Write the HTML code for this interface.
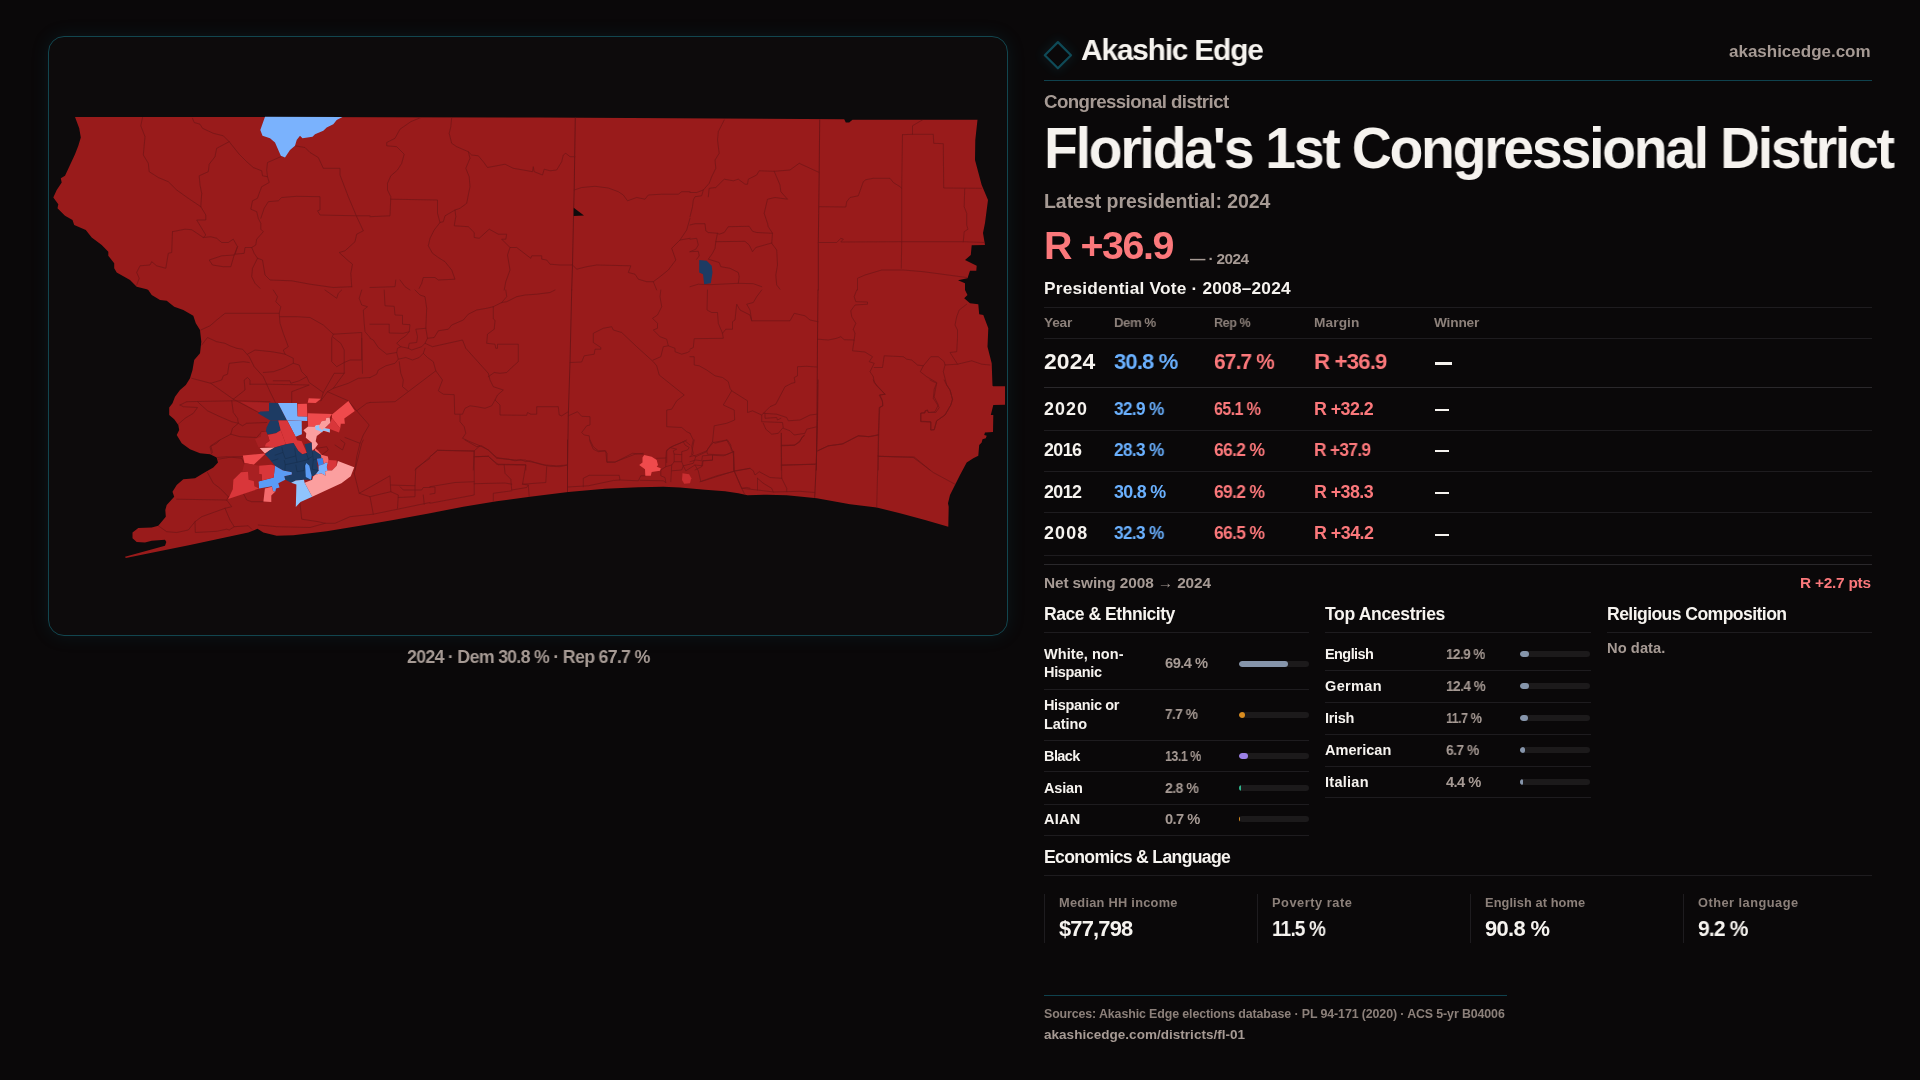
<!DOCTYPE html>
<html lang="en"><head><meta charset="utf-8"><title>Florida's 1st Congressional District</title>
<style>
*{margin:0;padding:0;box-sizing:border-box}
html,body{width:1920px;height:1080px;overflow:hidden;background:#0a0809;font-family:"Liberation Sans",sans-serif}
.t{position:absolute;white-space:nowrap;line-height:1;font-weight:700;transform-origin:0 0;will-change:transform}
.n{font-weight:400}
.hl{position:absolute;height:1px;background:#1e1c1f}
.hl2{position:absolute;height:1px;background:#2a282b}
.tl{position:absolute;height:1px;background:#0f424e}
.vl{position:absolute;width:1px;background:#1e1c1f}
.bar{position:absolute;width:70px;height:6px;border-radius:3px;background:#1c1a1b;overflow:hidden}
.bar i{display:block;height:6px;border-radius:3px;min-width:1px}
#card{position:absolute;left:48px;top:36px;width:960px;height:600px;border:1px solid #12464f;border-radius:16px;background:#0d0b0c;box-shadow:0 0 18px rgba(20,110,130,.15);overflow:hidden}
#card svg{position:absolute;left:-1px;top:-1px}
.dash{position:absolute;height:2px;background:#f5f2ee}
</style></head><body>

<div id="card"><svg width="960" height="600" viewBox="0 0 960 600">
<polygon points="27.0,81.0 217.0,81.0 492.0,81.5 796.2,83.3 797.8,86.5 801.2,86.5 804.5,83.7 929.5,83.7 927.3,104.0 927.0,124.0 933.7,149.0 940.0,164.0 937.0,187.0 935.0,197.0 937.0,209.0 923.7,209.3 922.8,219.0 917.0,224.0 928.7,229.8 928.3,234.8 922.0,234.8 919.5,242.3 910.0,244.3 917.0,247.3 917.0,254.0 919.5,259.0 916.2,262.3 922.0,267.3 930.3,268.2 931.2,278.2 935.3,279.0 940.3,292.3 939.5,310.7 943.7,327.3 944.5,349.8 945.3,350.3 957.0,350.3 957.0,368.7 945.3,369.0 942.8,379.0 945.3,379.0 945.0,396.0 937.0,396.5 936.2,399.0 938.7,399.8 937.8,402.3 934.5,403.2 933.7,406.5 931.2,409.0 930.3,419.8 925.3,422.3 918.7,426.5 912.0,439.0 902.0,459.0 900.0,467.3 900.7,470.7 900.3,490.7 877.0,484.0 852.0,477.3 828.7,471.5 802.0,468.2 768.7,462.3 738.7,459.3 718.7,458.7 699.5,459.3 690.3,457.3 677.0,455.3 657.0,453.7 632.0,451.5 615.3,450.7 590.3,451.2 557.0,452.8 520.3,456.0 482.0,460.7 448.7,465.3 415.3,470.7 382.0,477.3 345.3,484.0 312.0,489.8 278.7,495.3 245.3,499.3 228.7,499.8 215.3,496.5 209.5,492.8 200.3,496.5 142.0,509.0 77.8,522.0 77.0,520.7 117.0,509.8 118.3,506.0 117.0,503.7 103.7,504.8 97.0,506.5 88.7,506.0 84.5,502.3 84.5,496.5 90.3,492.0 103.7,491.5 110.3,489.8 117.8,480.7 117.3,474.0 118.7,469.0 126.2,460.7 124.5,455.7 128.7,449.0 135.3,443.2 147.0,442.3 155.3,437.3 165.3,431.5 170.0,426.5 168.7,421.5 162.0,418.2 152.0,417.3 142.0,413.2 133.7,407.3 128.7,399.0 131.2,394.0 130.3,389.0 126.2,383.2 121.2,379.0 121.2,371.5 124.5,367.3 127.0,360.7 132.0,354.0 137.8,349.0 142.0,342.3 144.5,334.0 146.2,324.0 152.0,317.3 153.3,305.7 152.0,294.0 147.8,287.3 145.3,279.8 135.3,274.0 126.2,270.7 118.7,264.8 112.0,264.0 103.7,259.0 100.3,254.0 98.7,253.2 88.7,250.7 82.0,244.0 68.7,236.5 66.2,232.3 66.2,227.3 60.3,219.8 60.3,215.7 53.7,209.0 43.7,201.5 37.8,194.0 26.2,189.0 24.5,184.0 17.0,179.8 9.5,172.3 10.3,168.2 5.3,161.5 8.7,154.0 13.7,146.5 12.8,142.3 17.0,139.8 22.0,129.0 27.0,118.2 30.3,109.8 32.8,101.5 31.2,92.3" fill="#991b1b"/>
<defs><clipPath id="mc"><polygon points="27.0,81.0 217.0,81.0 492.0,81.5 796.2,83.3 797.8,86.5 801.2,86.5 804.5,83.7 929.5,83.7 927.3,104.0 927.0,124.0 933.7,149.0 940.0,164.0 937.0,187.0 935.0,197.0 937.0,209.0 923.7,209.3 922.8,219.0 917.0,224.0 928.7,229.8 928.3,234.8 922.0,234.8 919.5,242.3 910.0,244.3 917.0,247.3 917.0,254.0 919.5,259.0 916.2,262.3 922.0,267.3 930.3,268.2 931.2,278.2 935.3,279.0 940.3,292.3 939.5,310.7 943.7,327.3 944.5,349.8 945.3,350.3 957.0,350.3 957.0,368.7 945.3,369.0 942.8,379.0 945.3,379.0 945.0,396.0 937.0,396.5 936.2,399.0 938.7,399.8 937.8,402.3 934.5,403.2 933.7,406.5 931.2,409.0 930.3,419.8 925.3,422.3 918.7,426.5 912.0,439.0 902.0,459.0 900.0,467.3 900.7,470.7 900.3,490.7 877.0,484.0 852.0,477.3 828.7,471.5 802.0,468.2 768.7,462.3 738.7,459.3 718.7,458.7 699.5,459.3 690.3,457.3 677.0,455.3 657.0,453.7 632.0,451.5 615.3,450.7 590.3,451.2 557.0,452.8 520.3,456.0 482.0,460.7 448.7,465.3 415.3,470.7 382.0,477.3 345.3,484.0 312.0,489.8 278.7,495.3 245.3,499.3 228.7,499.8 215.3,496.5 209.5,492.8 200.3,496.5 142.0,509.0 77.8,522.0 77.0,520.7 117.0,509.8 118.3,506.0 117.0,503.7 103.7,504.8 97.0,506.5 88.7,506.0 84.5,502.3 84.5,496.5 90.3,492.0 103.7,491.5 110.3,489.8 117.8,480.7 117.3,474.0 118.7,469.0 126.2,460.7 124.5,455.7 128.7,449.0 135.3,443.2 147.0,442.3 155.3,437.3 165.3,431.5 170.0,426.5 168.7,421.5 162.0,418.2 152.0,417.3 142.0,413.2 133.7,407.3 128.7,399.0 131.2,394.0 130.3,389.0 126.2,383.2 121.2,379.0 121.2,371.5 124.5,367.3 127.0,360.7 132.0,354.0 137.8,349.0 142.0,342.3 144.5,334.0 146.2,324.0 152.0,317.3 153.3,305.7 152.0,294.0 147.8,287.3 145.3,279.8 135.3,274.0 126.2,270.7 118.7,264.8 112.0,264.0 103.7,259.0 100.3,254.0 98.7,253.2 88.7,250.7 82.0,244.0 68.7,236.5 66.2,232.3 66.2,227.3 60.3,219.8 60.3,215.7 53.7,209.0 43.7,201.5 37.8,194.0 26.2,189.0 24.5,184.0 17.0,179.8 9.5,172.3 10.3,168.2 5.3,161.5 8.7,154.0 13.7,146.5 12.8,142.3 17.0,139.8 22.0,129.0 27.0,118.2 30.3,109.8 32.8,101.5 31.2,92.3"/></clipPath></defs>
<g clip-path="url(#mc)" fill="none" stroke-linejoin="round" stroke-linecap="round">
<g stroke="#6a1416" stroke-width="0.9">
<polyline points="527.3,81.5 526.7,120.7 526.2,154.0 525.7,172.3 524.5,229.0 523.7,254.0"/>
<polyline points="523.7,254.0 522.0,326.5 520.3,379.0 519.5,434.0"/>
<polyline points="519.5,404.0 519.5,456.0"/>
<polyline points="771.7,83.7 771.2,136.5 770.7,177.3 770.3,207.3 770.3,254.0"/>
<polyline points="770.0,254.0 769.5,304.0 769.0,378.2 768.3,434.0"/>
<polyline points="770.0,344.0 769.5,385.7 768.3,427.3 766.7,461.5"/>
</g><g stroke="#701517" stroke-width="0.7">
<polyline points="94.5,81.5 92.8,89.8 97.0,100.7 95.3,119.0 100.3,127.3 101.2,135.7 110.3,141.5 120.3,145.7 128.7,154.0 140.3,162.3 152.8,170.7 157.8,179.0 157.8,184.0 148.7,184.0 157.8,199.0 155.3,201.5 162.8,200.7 168.7,202.3 173.7,206.5 180.3,206.5 185.3,203.2 189.5,210.7 186.2,219.0 182.8,230.7 175.3,230.7 164.5,229.0 161.2,224.0 173.7,219.8 186.2,219.0"/>
<polyline points="144.5,82.3 146.2,86.5 152.0,88.2 154.5,92.3 165.3,97.3 175.3,99.8 181.2,105.7 168.7,112.3 167.0,120.7 161.2,128.2 160.3,135.7 151.2,139.8 152.0,149.0 153.7,157.3 152.8,170.7"/>
<polyline points="181.2,105.7 191.2,118.2 198.7,125.7 205.3,131.5 213.7,134.8 214.5,139.8 219.5,140.7 221.2,146.5 213.7,150.7 211.2,157.3 209.5,162.3 204.5,164.8 202.8,173.2 208.7,175.7 210.3,182.3 212.8,187.3 212.8,193.2 215.3,195.7 208.7,203.2 207.8,209.0 203.7,211.5 206.2,217.3 209.5,222.3 214.5,224.0 217.0,239.0 222.0,244.0 243.7,244.8 262.0,248.2 285.3,251.5 303.7,250.7"/>
<polyline points="232.8,120.7 225.3,124.0 219.5,126.5 218.7,134.0 219.5,140.7"/>
<polyline points="247.0,109.8 257.0,111.5 262.0,116.5 270.3,121.5 275.3,132.3 292.0,132.3 292.0,139.0 300.3,160.7 308.7,180.7 315.3,194.8 308.7,198.2 307.0,205.7 297.0,214.8 291.2,216.5 300.3,224.8 304.5,228.2 302.8,237.3 303.7,250.7"/>
<polyline points="212.8,182.3 216.2,172.3 220.3,165.7 230.3,164.8 233.7,161.5 248.7,160.3 272.0,160.7 272.0,174.0 269.5,174.8 272.0,179.0 308.7,179.8 322.0,179.8"/>
<polyline points="124.5,195.7 137.0,193.2 143.7,193.7 155.3,201.5"/>
<polyline points="124.5,195.7 123.7,216.5 120.3,217.3 117.8,232.3 108.7,229.8 103.7,225.7 102.0,229.0 92.0,229.8 88.7,236.5 91.2,242.3 88.7,249.0"/>
<polyline points="189.5,210.7 187.0,218.2 196.2,217.3 197.0,211.5 203.7,211.5"/>
<polyline points="209.5,222.3 204.5,232.3 203.7,240.7 207.0,247.3 212.0,252.3"/>
<polyline points="372.8,81.5 362.8,85.7 352.0,93.2 347.0,102.3 338.7,106.5 338.7,109.8 348.7,110.7 356.2,118.2 353.7,127.3 349.5,134.0 342.8,139.8 339.5,147.3 339.5,154.0 342.8,160.7 342.0,179.8 322.0,180.7"/>
<polyline points="342.8,163.2 389.5,164.0 389.5,177.3 392.0,186.5 386.2,194.0 382.0,202.3 380.3,209.8 384.5,217.3 390.3,221.5 397.0,225.7 403.7,234.0 407.0,243.2 390.3,244.0 387.0,241.5 375.3,241.5 373.7,247.3 371.2,252.3"/>
<polyline points="403.7,81.5 402.8,90.7 401.2,97.3 403.7,107.3 408.7,110.7 420.3,115.7 422.0,122.3 417.8,132.3 421.2,140.7 422.0,150.7 420.3,159.0 418.7,167.3 412.0,172.3 407.0,174.0 397.0,179.8 395.3,185.7 392.0,186.5"/>
<polyline points="420.3,115.7 423.7,119.0 430.3,119.8 435.3,125.7 439.5,131.5 448.7,129.8 457.0,128.2 465.3,132.3 475.3,134.0 484.5,135.7 485.3,130.7 486.2,135.7 494.5,139.0 496.2,133.2 502.0,134.8 508.7,134.0 513.7,125.7 515.3,119.0 517.8,117.3 522.0,120.7 526.7,120.7"/>
<polyline points="407.0,174.0 407.8,180.7 406.2,189.8 420.3,190.7 426.2,196.5 426.2,201.5 431.2,202.3 441.2,193.2 450.3,198.2 458.7,198.2 457.8,203.2 453.7,203.2 462.0,211.5 468.7,211.5 482.8,222.3 483.7,219.8 493.7,219.8 493.7,223.2 498.7,224.0 502.0,228.2 512.0,229.0 524.5,229.0"/>
<polyline points="462.0,211.5 459.5,219.0 462.0,234.0 457.8,245.7 456.2,254.0"/>
<polyline points="526.2,154.0 533.7,151.5 547.0,150.3 560.3,152.0 570.3,155.7 575.3,159.0 579.5,164.8 588.7,161.5 597.0,163.2 600.3,159.0 613.7,158.2 630.3,158.2 633.7,155.7 642.0,155.7"/>
<polyline points="524.5,229.0 528.7,233.2 538.7,230.7 548.7,229.0 582.8,229.8 580.3,236.5 587.0,238.2 590.3,243.2 598.7,245.7 605.3,245.7 612.0,240.7 620.3,234.0 627.8,224.0 623.7,212.3 632.0,204.0 642.0,202.3"/>
<polyline points="642.0,182.3 638.7,194.0 632.0,204.0"/>
<polyline points="605.3,245.7 608.7,254.0"/>
<polyline points="347.8,244.0 347.0,250.7 322.0,251.5"/>
<polyline points="352.0,244.0 357.0,250.7 362.0,254.0"/>
<polyline points="676.2,84.0 670.3,95.7 669.5,104.0 671.2,117.3 667.0,124.0 667.8,132.3 663.7,140.7 661.2,147.3 655.3,154.0 648.7,156.5 642.0,156.5"/>
<polyline points="660.3,160.7 661.2,152.3 667.8,151.5 676.2,143.2 685.3,144.8 690.3,143.2 697.0,148.2 699.5,148.2 700.3,143.2 708.7,139.0 711.2,134.8 726.2,135.3 742.0,134.0 751.2,127.3 771.2,136.5"/>
<polyline points="726.2,135.3 732.0,149.0 732.8,155.7 739.5,163.2 727.0,161.5 719.5,163.2 716.2,177.3 719.5,187.3 720.3,190.7 724.5,197.3 723.7,207.3 728.7,214.0 729.5,229.0 727.8,239.0 728.7,249.0 732.0,253.2"/>
<polyline points="771.2,170.7 797.8,171.0 798.7,165.7 802.0,161.5 810.3,159.8 815.3,145.7 817.8,143.7 825.3,142.3 842.0,142.3 845.3,146.5 852.0,150.7 853.7,152.3"/>
<polyline points="854.5,98.7 853.7,152.3 853.7,205.7 853.3,232.3"/>
<polyline points="854.5,98.7 864.5,98.3 864.5,89.8 872.0,85.3 874.5,84.0"/>
<polyline points="864.5,98.3 885.3,98.3 885.7,107.3 895.3,107.7 895.7,152.0 933.7,152.3"/>
<polyline points="916.7,152.7 916.2,170.7 918.7,177.3 918.7,189.0 920.0,193.2 916.2,195.7 915.3,205.7"/>
<polyline points="770.3,206.5 788.7,206.5 792.8,202.3 795.3,203.2 792.8,206.0 853.7,205.7 915.3,205.7 936.2,206.5"/>
<polyline points="809.5,254.0 809.5,242.3 817.0,239.0 833.7,234.0 855.3,234.0 875.3,235.7 918.7,241.5"/>
<polyline points="642.0,189.0 647.0,187.7 657.0,187.7 657.8,194.8 660.3,196.5 669.5,197.3 671.2,198.2 676.2,196.5 680.3,190.7 701.2,190.3 704.5,195.3 708.7,196.5 724.5,197.3"/>
<polyline points="669.5,197.3 667.8,205.7 697.0,205.3 701.2,209.0 704.5,215.7 707.8,211.5 723.7,207.0"/>
<polyline points="667.8,205.7 667.0,212.3 664.5,217.3 660.3,223.2 671.2,226.5 672.8,230.7 682.0,232.3 690.3,236.5 691.2,240.7 690.3,247.3"/>
<polyline points="642.0,250.7 650.3,248.2 662.0,248.7 690.3,247.3 705.3,247.7 713.7,250.7"/>
<polyline points="642.0,203.2 648.7,202.3 650.3,209.0 647.8,213.2 642.0,215.7"/>
<polyline points="642.0,215.7 650.3,215.3 651.2,219.8 648.7,223.2"/>
<polyline points="642.0,180.7 644.5,170.7 645.3,164.0 647.0,160.7 653.7,159.8 655.3,154.0"/>
<polyline points="225.3,254.0 229.5,260.7 227.8,265.7 232.8,270.7 231.2,277.3 232.0,287.3 235.3,297.3 237.8,304.0 240.3,310.7 235.3,314.0 237.0,318.2 245.3,322.3 245.3,327.3 251.2,329.0 253.7,335.7 258.7,340.7 261.2,346.5 275.3,356.5 272.8,364.8"/>
<polyline points="152.8,294.0 162.0,289.8 168.7,284.0 177.0,277.3 231.2,277.3"/>
<polyline points="232.0,280.7 248.7,280.7 262.0,281.5 275.3,289.0 285.3,298.2 313.7,296.5 313.7,324.0 302.0,324.0 296.2,326.5 288.7,330.7 283.7,325.7 283.7,302.3 285.3,298.2"/>
<polyline points="285.3,301.5 292.8,307.3 296.2,314.0 296.2,337.3 286.2,337.3 275.3,356.5"/>
<polyline points="153.7,309.0 159.5,301.5 168.7,305.7 177.0,307.3 182.0,309.8 188.7,312.3 194.5,313.2 201.2,320.7 206.2,330.7 215.3,340.7 222.0,355.7 227.8,367.3"/>
<polyline points="199.5,318.2 207.0,314.0 223.7,315.7 232.8,317.3 237.0,318.2"/>
<polyline points="215.3,336.5 225.3,335.7 235.3,332.3 245.3,327.3"/>
<polyline points="225.3,344.8 242.0,344.8 242.8,347.3 251.2,344.8 258.7,340.7"/>
<polyline points="202.0,348.2 218.7,348.2 261.2,349.0 243.7,355.7 243.7,367.3"/>
<polyline points="143.7,342.3 162.8,347.3 173.7,344.0 175.3,339.8 179.5,338.2 181.2,327.3 195.3,325.7 201.2,326.5"/>
<polyline points="162.8,347.3 185.3,363.2 197.0,354.0 196.2,344.0 199.5,341.5 202.0,344.0 202.0,348.2"/>
<polyline points="132.0,369.0 138.7,365.7 185.3,364.8 222.0,365.7"/>
<polyline points="185.3,363.2 218.7,380.7 223.7,384.0"/>
<polyline points="132.0,369.0 135.3,370.7 149.5,371.5 145.3,377.3 137.0,382.3 130.3,388.2"/>
<polyline points="149.5,365.7 159.5,374.8 172.0,380.7 183.7,385.7 190.3,387.3 194.5,389.8 198.7,387.3 218.7,386.5"/>
<polyline points="183.7,364.8 185.3,376.5 189.5,382.3 190.3,387.3 184.5,392.3 182.8,398.2 170.3,404.8 162.8,409.8 164.5,416.5"/>
<polyline points="182.8,398.2 192.0,400.7 208.7,401.5 213.7,395.7 218.7,395.7"/>
<polyline points="168.7,421.5 178.7,420.7 193.7,422.3 197.0,429.0"/>
<polyline points="296.2,337.3 285.3,352.3 279.5,355.7 272.8,364.8"/>
<polyline points="285.3,352.3 300.3,347.3 310.3,342.3 322.0,341.5"/>
<polyline points="279.5,355.7 300.3,364.8 308.7,374.8 318.7,367.3 322.0,366.5"/>
<polyline points="308.7,374.8 321.2,389.0 315.3,399.0 312.0,407.3 297.0,401.5"/>
<polyline points="312.0,407.3 308.7,420.7 307.0,434.0"/>
<polyline points="313.7,254.0 311.2,262.3 313.7,269.0 319.5,270.7 315.3,274.0 316.2,287.3 317.0,295.7 322.0,301.5"/>
<polyline points="313.7,302.3 314.5,337.3"/>
<polyline points="277.0,254.0 288.7,262.3 290.3,257.3 293.7,254.0"/>
<polyline points="367.0,254.0 372.0,259.0 377.0,260.7 378.7,272.3 377.8,292.3 379.5,302.3 377.0,307.3 384.5,310.7 414.5,304.0 417.8,312.3 440.3,337.3 442.0,344.0 445.3,350.7 455.3,354.0 449.5,359.0 447.0,364.0 452.0,369.0 452.0,379.0 478.7,379.3 479.5,376.5 482.8,378.2 488.7,378.2 488.7,370.7 510.3,370.7 511.2,379.0 513.7,379.8 520.3,375.7"/>
<polyline points="379.5,302.3 386.2,301.5 390.3,294.8 400.3,293.2 403.7,289.0 415.3,284.0 420.3,278.2 428.7,274.0 438.7,272.3 445.3,270.7 453.7,266.5 458.7,265.7 468.7,260.7 477.0,259.0 488.7,258.2 502.0,256.5 507.0,254.0"/>
<polyline points="445.3,270.7 445.3,282.3 447.0,284.8 446.2,293.2 439.5,298.2 438.7,307.3 447.0,308.2 447.8,312.3 449.5,312.3 449.5,308.2 470.3,308.2 470.3,325.7 463.7,331.5 458.7,336.5 452.0,337.3 446.2,336.5 440.3,340.7"/>
<polyline points="453.7,266.5 458.7,260.7 457.8,254.0"/>
<polyline points="336.2,254.0 337.0,269.8 346.2,270.3 347.0,279.0 354.5,279.3 354.5,288.2 362.0,288.7 361.2,295.7 355.3,297.3 341.2,297.0 341.2,288.2 322.0,288.2"/>
<polyline points="361.2,295.7 357.8,299.8 352.8,303.2 348.7,307.3 352.8,310.7 360.3,312.3 361.2,307.3 368.7,306.5 369.5,300.7 367.8,293.2 377.8,292.3"/>
<polyline points="322.0,302.3 325.3,304.0 330.3,311.5 338.7,318.2 348.7,316.5 349.5,312.3 352.8,310.7"/>
<polyline points="360.3,312.3 363.7,314.0 373.7,310.7 377.0,307.3"/>
<polyline points="348.7,316.5 350.3,323.2 357.8,321.5 364.5,324.0 371.2,321.5 375.3,317.3 377.0,312.3"/>
<polyline points="375.3,317.3 379.5,321.5 385.3,325.7 387.8,334.8 394.5,344.0 390.3,354.8 395.3,358.2 406.2,358.7 406.7,378.2 414.5,378.2 417.0,372.3 422.0,369.8 428.7,370.7 437.0,372.3 443.7,369.8 447.0,364.0"/>
<polyline points="387.8,334.8 347.0,365.7 322.0,366.5"/>
<polyline points="350.3,323.2 347.0,327.3 337.8,329.8 330.3,334.0 328.7,338.2 322.0,341.5"/>
<polyline points="351.2,325.7 352.8,337.3 355.3,344.0 354.5,350.7 359.5,354.8"/>
<polyline points="412.0,379.0 412.0,385.7 416.2,390.7 417.8,397.3 414.5,402.3 422.0,405.7 432.0,409.8 426.2,414.8 425.3,434.0"/>
<polyline points="432.0,409.8 440.3,414.0 448.7,421.5 458.7,423.2 468.7,424.0 477.0,424.0 482.0,425.7 490.3,427.3 497.0,429.0 508.7,429.8 519.5,429.0"/>
<polyline points="426.2,414.8 389.5,414.3 380.3,422.3 367.0,434.0"/>
<polyline points="427.8,420.7 440.3,420.3 448.7,428.2 477.8,428.7 477.8,434.0"/>
<polyline points="522.0,326.5 533.7,326.0 536.2,319.8 546.2,318.2 547.0,313.2 552.8,313.2 552.8,311.5 545.3,306.5 545.3,297.3 555.3,292.3 563.7,290.7 565.3,294.0 573.7,296.5 588.7,310.7 605.3,325.7 608.7,329.8 611.2,339.0 636.2,359.0 628.7,364.8 623.7,373.2 618.7,374.0 618.7,390.7 633.7,391.5 638.7,395.7 642.0,397.3"/>
<polyline points="520.3,379.8 529.5,375.7 533.7,380.3 542.0,380.7 542.0,389.0 538.7,389.8 533.7,396.5 536.2,399.0 541.2,399.8 542.0,405.7 545.3,413.2 550.3,415.7 557.8,414.8 558.7,425.7 567.0,426.0 587.0,418.2 595.3,417.3"/>
<polyline points="612.8,254.0 612.0,260.7 613.7,270.7 609.5,279.0 604.5,282.3 609.5,287.3 609.5,292.3 605.3,294.0 612.0,300.7 618.7,303.2 620.3,309.8 627.0,312.3 627.0,315.7 633.7,318.2 639.5,316.5 642.0,314.8"/>
<polyline points="605.3,324.0 612.8,320.7 615.3,310.7 620.3,309.8"/>
<polyline points="618.7,426.5 618.7,414.0 625.3,409.8 632.0,407.3 637.0,404.8 642.0,409.0"/>
<polyline points="659.5,254.0 659.0,274.0 663.7,276.5 669.5,276.5 670.3,287.3 674.5,297.3 675.3,302.3 646.2,302.7 645.3,311.5 642.0,313.2"/>
<polyline points="674.5,297.3 677.8,293.2 684.5,293.2 684.5,285.7 687.0,284.0 688.7,268.2 692.0,274.0 702.0,279.0 703.7,284.8 742.0,284.8 746.2,277.3 757.0,279.8 762.0,284.0 770.0,285.7"/>
<polyline points="713.7,254.0 708.7,260.7 705.3,266.5 698.7,268.2 702.0,274.0 703.7,284.8"/>
<polyline points="642.0,320.7 646.2,320.7 646.2,329.0 651.2,329.8 658.7,334.0 667.0,339.8 674.5,341.5 680.3,345.7 682.0,352.3 683.7,354.8 675.3,369.0 686.2,374.0 686.7,384.0 678.7,387.3 666.2,389.8 664.5,405.7 658.7,414.8 648.7,419.0 642.0,420.7"/>
<polyline points="683.7,354.8 699.5,364.8 699.5,376.5 704.5,374.8 713.7,379.0 713.7,385.7 734.5,386.5 735.3,392.3 742.0,394.8 746.2,399.0 757.0,397.3 758.7,393.2 769.0,390.7"/>
<polyline points="713.7,379.0 722.0,370.7 727.8,368.2 737.0,350.7 743.7,347.3 747.0,346.5 746.2,341.5 749.5,339.8 749.5,330.7 758.7,330.3 769.0,331.0"/>
<polyline points="715.3,377.3 728.7,378.2 738.7,381.5 740.3,384.8 752.0,384.0 762.0,379.0 769.0,378.2"/>
<polyline points="717.0,377.3 717.0,382.3 728.7,381.5 729.5,384.0 732.8,382.3"/>
<polyline points="715.3,387.3 717.8,393.2 723.7,398.2 730.3,397.3 734.5,392.3"/>
<polyline points="733.3,397.3 733.3,434.0"/>
<polyline points="733.3,409.8 746.2,409.3 751.2,405.7 756.2,399.0"/>
<polyline points="733.3,429.0 767.0,428.2"/>
<polyline points="664.5,405.7 667.0,407.3 679.5,404.0 682.8,409.0 683.3,414.8 685.7,415.7 685.7,434.0"/>
<polyline points="658.7,414.8 659.5,418.2 677.8,419.0 685.7,415.7"/>
<polyline points="642.0,425.7 647.8,424.0 653.7,424.8 654.5,419.8 664.5,419.0 664.5,424.0 654.5,424.8 653.7,430.7 647.0,434.0"/>
<polyline points="642.0,397.3 645.3,404.0 643.7,410.7 645.3,417.3 642.0,420.7"/>
<polyline points="770.0,303.2 780.3,304.0 788.7,302.3 792.8,300.7 796.2,303.7 806.2,304.0 804.5,314.8 817.0,316.0 824.5,320.7 821.2,325.7 826.2,327.3 822.0,335.7 825.3,340.7 826.2,346.5 837.0,358.2 832.0,359.0 834.5,364.8 834.5,369.8 831.2,371.5 830.3,399.0 830.3,434.0"/>
<polyline points="806.2,304.0 807.0,297.3 805.3,293.2 807.8,287.3 803.7,280.7 802.8,274.8 807.0,269.0 819.5,268.2 819.5,266.0 807.8,265.7 806.2,260.7 808.7,254.0"/>
<polyline points="826.2,331.5 834.5,331.5 836.2,319.8 855.3,320.7 858.7,323.2 863.7,324.0 869.5,329.0 875.3,329.8 882.8,320.7 890.3,320.7 896.2,325.7 897.0,329.0 909.5,328.2 923.7,324.8 933.7,328.2 942.0,329.0"/>
<polyline points="875.3,329.8 872.3,335.7 878.7,340.7 888.7,346.5 886.2,360.7 890.3,369.0 887.0,375.7 880.3,376.5 879.5,374.0 877.0,374.8 877.0,376.5 872.8,377.0 872.8,385.7 882.8,386.0 882.8,394.0 886.2,393.7 888.7,384.8 897.0,379.0 902.8,369.0 904.5,363.2 902.0,354.0 898.7,349.0 895.3,335.7 897.0,329.0"/>
<polyline points="909.5,328.2 902.0,316.5 908.7,315.7 909.5,302.3 909.5,294.0 907.0,289.0 908.7,280.7 911.2,274.0 918.7,268.2"/>
<polyline points="769.5,414.8 780.3,409.8 793.7,408.2 810.3,399.8 822.0,400.7 830.3,399.0"/>
<polyline points="830.3,420.3 866.2,421.0 882.0,434.0"/>
<polyline points="128.7,463.2 178.7,464.0 183.7,470.7 177.0,472.3 153.7,480.7 147.0,485.7 140.3,494.0 128.7,496.5 118.7,495.7 110.3,489.8"/>
<polyline points="147.0,485.7 147.3,496.5 168.7,495.3 178.7,493.2 181.2,494.0 186.2,490.7 200.3,489.8 203.7,493.2"/>
<polyline points="177.0,472.3 182.0,484.0 186.2,490.7"/>
<polyline points="178.7,464.0 180.3,460.7 195.3,457.3 209.5,452.3"/>
<polyline points="195.3,457.3 198.7,464.0 203.7,465.7 215.3,465.7"/>
<polyline points="159.5,436.5 165.3,447.3 172.0,452.3 180.3,460.7"/>
<polyline points="172.0,404.0 168.7,407.3 162.0,410.7 163.7,418.2"/>
<polyline points="170.3,423.2 185.3,420.7 195.3,420.7"/>
<polyline points="252.0,467.3 253.7,483.2 270.3,485.7 277.0,487.3 287.0,487.3 302.0,480.7 325.3,478.2 382.0,466.5"/>
<polyline points="210.3,489.0 228.7,490.7 262.0,491.5 277.0,487.3"/>
<polyline points="306.2,437.3 311.2,457.3 322.0,460.7 325.3,478.2"/>
<polyline points="311.2,457.3 342.0,439.8 342.8,455.7 350.3,459.0 349.5,472.3"/>
<polyline points="322.0,460.7 328.7,459.0 342.8,455.7"/>
<polyline points="306.2,437.3 313.7,407.3 315.3,404.0"/>
<polyline points="342.8,449.0 367.0,449.8 367.8,432.3 382.0,422.3"/>
<polyline points="352.0,450.7 355.3,454.0 373.7,454.0 375.3,451.5 382.0,451.5"/>
<polyline points="367.0,449.8 367.0,460.7 350.3,461.5"/>
<polyline points="375.3,459.0 376.2,468.2"/>
<polyline points="287.0,409.0 294.5,414.0 297.0,407.3 292.8,404.0"/>
<polyline points="268.7,412.3 278.7,410.7 280.3,414.0 273.7,419.0"/>
<polyline points="382.0,420.7 389.5,414.3 426.2,415.3 426.2,459.0 382.0,467.3"/>
<polyline points="417.0,404.0 428.7,410.7 433.7,409.8 440.3,414.0 448.7,422.3 460.3,423.2 467.0,424.8 472.8,423.7 477.8,425.7 482.0,424.8 492.0,428.2 502.0,430.3 512.0,430.7 519.5,429.0"/>
<polyline points="426.2,420.7 440.3,420.3 450.3,428.7 477.8,429.0 474.5,448.2 480.3,449.0 481.2,460.7"/>
<polyline points="456.2,429.0 457.0,437.3 462.8,443.2 463.7,454.0 478.7,451.5 480.3,449.0"/>
<polyline points="426.2,447.7 457.0,447.0 463.7,448.2"/>
<polyline points="382.0,450.7 407.0,446.5 426.2,445.7"/>
<polyline points="474.5,448.2 497.8,446.5 498.7,430.7"/>
<polyline points="445.3,466.0 445.3,457.3 463.7,454.8"/>
<polyline points="382.0,451.0 387.0,451.0 387.0,457.3 382.0,458.2"/>
<polyline points="542.0,404.0 545.3,410.7 550.3,414.8 557.0,414.8 559.0,417.3 559.0,426.5 567.0,426.2 584.5,417.3 595.3,418.2"/>
<polyline points="535.3,450.7 535.3,442.3 541.2,439.3 571.2,439.3 572.0,444.0 565.3,444.5 540.3,449.8 519.5,451.0"/>
<polyline points="572.0,444.0 590.3,444.8 592.8,439.8 597.3,439.8"/>
<polyline points="592.0,444.3 615.3,444.8 617.8,446.5"/>
<polyline points="608.7,422.3 617.8,422.0 618.3,415.7 622.0,411.5 628.7,413.2 625.3,414.8 626.2,418.2 633.7,418.7 633.7,415.7 639.5,414.0 641.2,411.5 637.0,409.0 635.3,405.7 638.7,404.0"/>
<polyline points="617.8,422.0 617.8,430.7 612.8,434.0 612.8,439.8 617.0,441.5 617.8,446.5"/>
<polyline points="617.8,430.7 623.7,429.0 626.2,425.7 626.2,418.2"/>
<polyline points="626.2,425.7 633.7,425.7 633.7,418.7"/>
<polyline points="633.7,425.7 635.3,429.8 645.3,427.3 647.8,420.7 643.7,418.2 644.5,412.3 646.2,404.0"/>
<polyline points="623.7,429.0 622.8,445.7"/>
<polyline points="623.7,434.8 633.7,434.0 635.3,429.8"/>
<polyline points="635.3,429.8 637.8,434.8 647.0,429.0 654.5,429.8 655.0,424.8 664.5,424.3 664.5,419.3 675.3,419.8 685.3,415.7"/>
<polyline points="647.8,420.7 658.7,415.7 660.3,412.3 665.3,406.5 678.7,404.0"/>
<polyline points="647.0,429.0 650.3,434.8 652.8,445.7 687.0,434.8 702.0,432.3"/>
<polyline points="678.7,404.0 685.3,415.7 686.2,434.8 693.7,452.3 698.7,451.5 702.0,452.3"/>
<polyline points="622.0,411.5 635.3,405.7"/>
<polyline points="837.0,358.2 831.2,359.0 834.5,365.7 835.0,369.8 831.7,371.5 830.7,399.0 830.0,420.7 828.7,471.5"/>
<polyline points="825.3,344.0 828.7,349.8 837.0,358.2"/>
<polyline points="770.0,414.8 780.3,409.8 795.3,407.7 810.3,399.8 820.3,400.7 830.7,398.7"/>
<polyline points="830.3,420.3 865.3,421.5 885.3,436.5 907.0,448.2"/>
<polyline points="733.3,397.3 733.7,442.3 738.7,452.3 738.7,455.7"/>
<polyline points="733.7,409.3 747.0,409.0 752.0,405.7 753.7,401.5 756.2,399.8"/>
<polyline points="733.7,429.3 767.8,428.2"/>
<polyline points="652.0,445.7 668.7,439.8 686.2,435.3 702.0,432.3 705.3,434.8 707.0,439.0 711.2,435.7 722.0,441.5 733.7,442.3"/>
<polyline points="686.2,435.3 693.7,452.3 697.0,459.0"/>
<polyline points="693.7,452.3 709.5,454.0 725.3,456.0 752.0,455.3 766.7,456.5"/>
<polyline points="709.5,442.3 709.5,454.0"/>
<polyline points="709.5,442.3 715.3,447.3 723.7,452.3 725.3,456.0"/>
<polyline points="685.3,415.7 686.2,435.3"/>
<polyline points="882.0,344.0 888.7,347.3 886.2,353.2 885.3,362.3 891.2,371.5 887.8,376.5 880.3,376.5 879.5,374.3 877.0,375.3 877.0,377.0 872.8,377.3 872.8,385.3 882.8,385.7 882.8,394.0 886.2,393.7 888.7,384.8 897.0,379.0 902.8,369.0 904.5,363.2 902.0,354.0 898.7,349.0 896.2,344.0"/>
</g></g>
<polygon points="217.0,80.7 212.3,94.0 214.5,99.8 222.0,102.3 227.0,106.5 230.3,114.0 232.8,119.8 237.0,121.5 239.5,117.7 242.0,114.0 247.0,109.8 248.7,104.0 252.0,99.8 254.5,102.3 264.5,100.7 267.0,98.2 275.3,94.8 278.7,91.5 285.3,88.2 288.7,84.0 294.5,81.0" fill="#7ab2fd"/>
<polygon points="525.7,171.8 536.0,179.5 525.7,180.0" fill="#0d0b0c"/>
<polygon points="651.2,224.0 658.7,224.8 663.7,229.8 664.5,236.5 662.8,247.3 656.2,248.2 655.0,238.2 651.2,236.5" fill="#1d3b63"/>
<polygon points="596.2,419.0 603.7,420.7 608.7,424.0 610.0,429.0 608.7,430.7 612.8,432.3 612.0,434.8 603.7,436.0 602.8,439.8 597.3,439.8 597.0,433.2 591.2,429.0 594.5,426.5 594.5,421.5" fill="#ef4a4c"/>
<polygon points="634.5,437.3 641.2,438.2 643.3,442.3 642.0,447.3 636.2,447.7 634.0,444.0" fill="#c92d30"/>
<polygon points="192.4,365.7 221.0,367.1 221.0,375.6 211.1,376.2" fill="#a82022"/>
<polygon points="221.0,366.8 230.0,367.1 239.1,384.6 230.3,384.6 222.2,384.6 209.9,377.3 212.3,375.6 221.0,375.2" fill="#1d3b63"/>
<polygon points="230.0,367.1 249.0,367.1 249.6,380.3 259.3,380.6 259.3,384.9 239.1,384.6" fill="#7ab2fd"/>
<polygon points="239.4,384.7 253.7,384.9 253.9,398.3 247.6,400.7" fill="#7ab2fd"/>
<polygon points="249.6,368.0 258.9,367.8 259.3,380.6 249.6,380.3" fill="#ef4a4c"/>
<polygon points="260.7,362.2 272.9,362.8 267.7,367.1 259.7,366.8" fill="#ef4a4c"/>
<polygon points="284.0,378.5 300.4,365.1 306.8,375.0 296.3,382.6 296.9,387.8 292.8,387.8 292.2,392.5 284.0,382.0" fill="#ef4a4c"/>
<polygon points="259.7,377.3 284.0,377.9 281.7,381.4 278.2,382.0 277.6,384.6 273.5,385.3 271.8,388.4 267.7,389.0 266.5,390.8 260.1,390.4" fill="#ef4a4c"/>
<polygon points="284.0,382.0 292.2,392.5 291.0,396.6 281.7,393.1 277.6,391.9 282.3,386.7" fill="#d9363a"/>
<polygon points="255.4,394.3 260.1,390.4 266.5,390.8 267.7,389.0 271.8,388.4 273.5,385.3 277.6,384.6 278.2,382.0 281.7,381.4 282.3,386.7 277.0,391.9 281.7,393.1 281.7,396.6 275.3,394.8 272.4,397.2 268.8,400.1 267.7,405.3 270.0,408.3 267.1,412.3 264.2,414.7 263.6,406.5 257.8,401.8 258.3,397.2" fill="#fb9f9f"/>
<polygon points="267.1,390.2 271.2,389.0 271.2,391.9 274.7,394.3 275.3,392.5 281.7,393.1 281.7,396.6 277.6,394.8 274.7,394.8 274.1,396.6 271.2,394.8 267.7,393.7" fill="#90c4fd"/>
<polygon points="222.2,384.6 230.3,384.6 232.7,394.3 228.0,397.2 218.7,398.6 217.9,394.8 218.7,391.3 220.4,387.8" fill="#1d3b63"/>
<polygon points="230.3,384.6 239.1,384.6 247.8,400.7 249.0,404.2 253.7,405.3 258.9,417.0 254.3,418.2 250.2,414.7 245.5,407.1 237.9,408.3 232.7,394.3" fill="#d9363a"/>
<polygon points="219.8,398.9 228.0,397.2 232.7,394.3 237.9,408.3 226.8,411.2 216.9,410.6 217.5,407.7 221.6,404.8" fill="#d9363a"/>
<polygon points="207.0,403.0 212.8,400.7 213.4,396.0 218.1,395.4 219.8,398.9 221.6,404.8 217.5,407.7 216.9,410.6 210.5,411.2" fill="#a82022"/>
<polygon points="211.7,412.1 226.8,411.4 221.0,414.7 216.9,417.6" fill="#fb9f9f"/>
<polygon points="194.8,419.6 216.3,417.6 216.9,418.2 205.8,428.7 196.5,426.9" fill="#ef4a4c"/>
<polygon points="216.9,418.2 221.0,414.7 226.8,411.4 237.9,408.3 245.5,407.1 250.2,414.7 254.3,418.2 258.9,417.0 256.6,408.3 263.6,406.5 264.2,414.7 267.1,414.7 272.9,418.8 273.5,422.3 268.8,422.8 269.4,429.8 270.6,434.5 267.7,438.6 265.3,440.3 263.6,439.8 264.2,443.8 256.0,443.8 247.8,444.4 243.2,446.8 237.3,443.8 236.2,440.3 243.8,438.6 243.8,436.3 235.0,434.5 226.8,429.8 223.3,425.2" fill="#1d3b63"/>
<polygon points="226.8,429.8 235.0,434.5 243.8,436.3 243.8,438.6 236.2,440.3 237.3,443.8 230.3,447.3 231.5,451.4 228.0,452.6 227.4,455.5 225.1,455.5 223.9,450.3 211.1,452.6 210.3,445.6 225.7,441.5 226.3,435.7" fill="#5a9bf5"/>
<polygon points="258.3,426.9 261.3,429.8 263.6,439.8 263.0,443.8 257.8,440.9 257.2,429.8" fill="#5a9bf5"/>
<polygon points="268.8,422.8 274.7,421.9 275.9,428.1 270.6,429.8" fill="#3b82e8"/>
<polygon points="270.6,429.8 275.9,428.1 277.6,426.3 279.9,426.9 278.8,431.0 279.9,434.5 277.0,435.7 277.6,439.8 273.5,437.4 267.7,438.6 270.6,434.5" fill="#7ab2fd"/>
<polygon points="280.5,424.0 288.7,424.6 288.7,429.8 284.0,434.5 279.9,434.5 278.8,431.0 279.9,426.9" fill="#d9363a"/>
<polygon points="267.1,412.3 270.0,414.7 273.5,418.8 279.9,420.5 280.5,424.0 279.9,426.9 277.6,426.3 275.9,428.1 274.7,421.9 273.5,422.3 272.9,418.8 267.1,414.7" fill="#f46a6c"/>
<polygon points="289.9,424.9 306.2,431.2 302.7,440.3 293.4,447.3 264.2,460.8 256.6,446.8 264.2,443.8 265.3,440.3 267.7,438.6 273.5,437.4 277.6,439.8 277.0,435.7 279.9,434.5 284.0,434.5 288.7,429.8" fill="#fb9f9f"/>
<polygon points="243.2,446.8 247.8,444.4 256.0,443.8 256.6,446.8 264.2,460.8 252.5,466.0 247.8,471.0 248.4,448.5" fill="#90c4fd"/>
<polygon points="211.1,429.8 223.3,428.7 226.8,429.8 226.3,435.7 225.7,441.5 214.0,444.4 213.8,438.6 211.1,438.0" fill="#d9363a"/>
<polygon points="196.5,426.9 205.8,428.7 211.1,429.8 211.1,438.0 213.8,438.6 214.0,444.4 210.3,445.6 211.1,452.6 206.4,450.3 205.8,445.0 200.6,443.8 200.0,435.7 194.2,435.7" fill="#a82022"/>
<polygon points="200.0,435.7 200.6,443.8 205.8,445.0 206.4,450.3 211.1,452.6 180.2,463.1 184.8,453.2 185.4,443.8 193.0,436.3" fill="#d9363a"/>
<polygon points="216.9,452.6 223.9,450.8 225.1,455.5 227.4,455.5 223.3,459.6 223.3,466.0 215.4,465.4" fill="#f46a6c"/>
<g fill="none" stroke="#152d4c" stroke-width="0.6">
<polyline points="226.8,419.3 235.0,416.4 237.3,422.8 247.8,419.9 249.0,426.3 237.3,428.7 236.2,424.0"/>
<polyline points="235.0,416.4 233.8,411.2"/>
<polyline points="247.8,419.9 246.7,412.3"/>
<polyline points="249.0,426.3 258.3,424.0 264.2,420.5"/>
<polyline points="247.8,428.7 249.0,435.7 256.0,434.5 256.6,428.7"/>
<polyline points="237.3,428.7 236.8,434.5"/>
<polyline points="264.2,414.7 265.3,424.0 268.8,422.8"/>
<polyline points="265.3,424.0 264.2,433.3 270.6,434.5"/>
<polyline points="258.3,417.0 260.7,424.0"/>
<polyline points="223.3,425.2 230.3,422.8"/>
</g>
</svg></div>

<svg style="position:absolute;left:1028px;top:25px;overflow:visible" width="60" height="60" viewBox="0 0 60 60"><defs><filter id="g" x="-100%" y="-100%" width="300%" height="300%"><feGaussianBlur stdDeviation="5"/></filter></defs><path d="M29.9 17.1 L43 30.2 L29.9 43.3 L16.8 30.2 Z" fill="none" stroke="#15809a" stroke-width="5" opacity=".16" filter="url(#g)"/><path d="M29.9 17.1 L43 30.2 L29.9 43.3 L16.8 30.2 Z" fill="#0a0809" stroke="#0f4a57" stroke-width="2.2" stroke-linejoin="round"/></svg>

<div class="tl" style="left:1044px;top:80px;width:828px"></div>
<div class="hl" style="left:1044px;top:307px;width:828px"></div>
<div class="hl" style="left:1044px;top:338px;width:828px"></div>
<div class="hl2" style="left:1044px;top:387px;width:828px"></div>
<div class="hl" style="left:1044px;top:430px;width:828px"></div>
<div class="hl" style="left:1044px;top:471px;width:828px"></div>
<div class="hl" style="left:1044px;top:512px;width:828px"></div>
<div class="hl" style="left:1044px;top:555px;width:828px"></div>
<div class="hl2" style="left:1044px;top:564px;width:828px"></div>
<div class="hl" style="left:1044px;top:632px;width:265px"></div>
<div class="hl" style="left:1325px;top:632px;width:266px"></div>
<div class="hl" style="left:1607px;top:632px;width:265px"></div>
<div class="hl" style="left:1044px;top:689px;width:265px"></div>
<div class="hl" style="left:1044px;top:740px;width:265px"></div>
<div class="hl" style="left:1044px;top:771px;width:265px"></div>
<div class="hl" style="left:1044px;top:804px;width:265px"></div>
<div class="hl" style="left:1044px;top:835px;width:265px"></div>
<div class="hl" style="left:1325px;top:670px;width:266px"></div>
<div class="hl" style="left:1325px;top:702px;width:266px"></div>
<div class="hl" style="left:1325px;top:734px;width:266px"></div>
<div class="hl" style="left:1325px;top:766px;width:266px"></div>
<div class="hl" style="left:1325px;top:797px;width:266px"></div>
<div class="hl" style="left:1044px;top:875px;width:828px"></div>
<div class="tl" style="left:1044px;top:995px;width:463px"></div>
<div class="vl" style="left:1044px;top:894px;height:49px"></div>
<div class="vl" style="left:1257px;top:894px;height:49px"></div>
<div class="vl" style="left:1470px;top:894px;height:49px"></div>
<div class="vl" style="left:1683px;top:894px;height:49px"></div>
<div class="dash" style="left:1435px;top:362px;width:17px;height:2.5px"></div>
<div class="dash" style="left:1435px;top:409px;width:14px;height:2px"></div>
<div class="dash" style="left:1435px;top:450px;width:14px;height:2px"></div>
<div class="dash" style="left:1435px;top:492px;width:14px;height:2px"></div>
<div class="dash" style="left:1435px;top:534px;width:14px;height:2px"></div>
<div class="bar" style="left:1239px;top:661px"><i style="width:48.6px;background:#8695ab"></i></div>
<div class="bar" style="left:1239px;top:712px"><i style="width:6px;background:#d98c1f"></i></div>
<div class="bar" style="left:1239px;top:753px"><i style="width:9.2px;background:#9b80e6"></i></div>
<div class="bar" style="left:1239px;top:785px"><i style="width:2px;background:#2fb58c"></i></div>
<div class="bar" style="left:1239px;top:816px"><i style="width:1px;background:#d98c1f"></i></div>
<div class="bar" style="left:1520px;top:651px"><i style="width:9px;background:#8695ab"></i></div>
<div class="bar" style="left:1520px;top:683px"><i style="width:8.7px;background:#8695ab"></i></div>
<div class="bar" style="left:1520px;top:715px"><i style="width:8.2px;background:#8695ab"></i></div>
<div class="bar" style="left:1520px;top:747px"><i style="width:4.7px;background:#8695ab"></i></div>
<div class="bar" style="left:1520px;top:779px"><i style="width:3.1px;background:#8695ab"></i></div>
<span class="t" id="t0" style="left:1081.00px;top:32px;line-height:34px;font-size:30.4px;color:#f6f3ef;letter-spacing:-1.216px;transform:scaleX(0.9836)">Akashic Edge</span>
<span class="t" id="t1" style="left:1729.00px;top:42px;line-height:19px;font-size:17px;color:#a69a94;letter-spacing:-0.009px">akashicedge.com</span>
<span class="t" id="t2" style="left:1044.00px;top:91px;line-height:21px;font-size:18.7px;color:#a69a94;letter-spacing:-0.575px">Congressional district</span>
<span class="t" id="t3" style="left:1044.00px;top:116px;line-height:64px;font-size:57.2px;color:#f6f3ef;letter-spacing:-2.288px;transform:scaleX(0.9665)">Florida's 1st Congressional District</span>
<span class="t" id="t4" style="left:1044.00px;top:190px;line-height:22px;font-size:19.5px;color:#a69a94;letter-spacing:-0.048px">Latest presidential: 2024</span>
<span class="t" id="t5" style="left:1044.00px;top:223px;line-height:44px;font-size:39.4px;color:#fb787b;letter-spacing:-1.442px">R +36.9</span>
<span class="t" id="t6" style="left:1190.00px;top:250px;line-height:17px;font-size:15.4px;color:#a69a94;letter-spacing:-0.616px;transform:scaleX(0.9927)">— · 2024</span>
<span class="t" id="t7" style="left:1044.00px;top:278px;line-height:20px;font-size:17.3px;color:#f6f3ef;letter-spacing:0.208px">Presidential Vote · 2008–2024</span>
<span class="t" id="t8" style="left:1044.00px;top:315px;line-height:15px;font-size:13.7px;color:#8c807a;letter-spacing:-0.199px">Year</span>
<span class="t" id="t9" style="left:1114.00px;top:315px;line-height:15px;font-size:13.7px;color:#8c807a;letter-spacing:-0.548px;transform:scaleX(0.9705)">Dem %</span>
<span class="t" id="t10" style="left:1214.00px;top:315px;line-height:15px;font-size:13.7px;color:#8c807a;letter-spacing:-0.548px;transform:scaleX(0.9248)">Rep %</span>
<span class="t" id="t11" style="left:1314.00px;top:315px;line-height:15px;font-size:13.7px;color:#8c807a;letter-spacing:0.099px">Margin</span>
<span class="t" id="t12" style="left:1434.00px;top:315px;line-height:15px;font-size:13.7px;color:#8c807a;letter-spacing:-0.187px">Winner</span>
<span class="t" id="t13" style="left:1044.00px;top:348px;line-height:26px;font-size:22.9px;color:#f6f3ef;letter-spacing:0.103px">2024</span>
<span class="t" id="t14" style="left:1114.00px;top:348px;line-height:26px;font-size:22.9px;color:#6ab0fe;letter-spacing:-0.916px;transform:scaleX(0.9648)">30.8 %</span>
<span class="t" id="t15" style="left:1214.00px;top:348px;line-height:26px;font-size:22.9px;color:#fb787b;letter-spacing:-0.916px;transform:scaleX(0.9121)">67.7 %</span>
<span class="t" id="t16" style="left:1314.00px;top:348px;line-height:26px;font-size:22.9px;color:#fb787b;letter-spacing:-0.916px;transform:scaleX(0.9747)">R +36.9</span>
<span class="t" id="t17" style="left:1044.00px;top:399px;line-height:20px;font-size:17.9px;color:#f6f3ef;letter-spacing:1.050px">2020</span>
<span class="t" id="t18" style="left:1114.00px;top:399px;line-height:20px;font-size:17.9px;color:#6ab0fe;letter-spacing:-0.716px;transform:scaleX(0.9653)">32.9 %</span>
<span class="t" id="t19" style="left:1214.00px;top:399px;line-height:20px;font-size:17.9px;color:#fb787b;letter-spacing:-0.716px;transform:scaleX(0.9002)">65.1 %</span>
<span class="t" id="t20" style="left:1314.00px;top:399px;line-height:20px;font-size:17.9px;color:#fb787b;letter-spacing:-0.585px">R +32.2</span>
<span class="t" id="t21" style="left:1044.00px;top:440px;line-height:20px;font-size:17.9px;color:#f6f3ef;letter-spacing:-0.617px">2016</span>
<span class="t" id="t22" style="left:1114.00px;top:440px;line-height:20px;font-size:17.9px;color:#6ab0fe;letter-spacing:-0.716px;transform:scaleX(0.9653)">28.3 %</span>
<span class="t" id="t23" style="left:1214.00px;top:440px;line-height:20px;font-size:17.9px;color:#fb787b;letter-spacing:-0.716px;transform:scaleX(0.9768)">66.2 %</span>
<span class="t" id="t24" style="left:1314.00px;top:440px;line-height:20px;font-size:17.9px;color:#fb787b;letter-spacing:-0.716px;transform:scaleX(0.9675)">R +37.9</span>
<span class="t" id="t25" style="left:1044.00px;top:482px;line-height:20px;font-size:17.9px;color:#f6f3ef;letter-spacing:-0.617px">2012</span>
<span class="t" id="t26" style="left:1114.00px;top:482px;line-height:20px;font-size:17.9px;color:#6ab0fe;letter-spacing:-0.716px;transform:scaleX(0.9960)">30.8 %</span>
<span class="t" id="t27" style="left:1214.00px;top:482px;line-height:20px;font-size:17.9px;color:#fb787b;letter-spacing:-0.716px;transform:scaleX(0.9768)">69.2 %</span>
<span class="t" id="t28" style="left:1314.00px;top:482px;line-height:20px;font-size:17.9px;color:#fb787b;letter-spacing:-0.585px">R +38.3</span>
<span class="t" id="t29" style="left:1044.00px;top:523px;line-height:20px;font-size:17.9px;color:#f6f3ef;letter-spacing:1.150px">2008</span>
<span class="t" id="t30" style="left:1114.00px;top:523px;line-height:20px;font-size:17.9px;color:#6ab0fe;letter-spacing:-0.716px;transform:scaleX(0.9653)">32.3 %</span>
<span class="t" id="t31" style="left:1214.00px;top:523px;line-height:20px;font-size:17.9px;color:#fb787b;letter-spacing:-0.716px;transform:scaleX(0.9768)">66.5 %</span>
<span class="t" id="t32" style="left:1314.00px;top:523px;line-height:20px;font-size:17.9px;color:#fb787b;letter-spacing:-0.535px">R +34.2</span>
<span class="t" id="t33" style="left:1044.00px;top:574px;line-height:17px;font-size:15.4px;color:#a69a94;letter-spacing:-0.116px">Net swing 2008 → 2024</span>
<span class="t" id="t34" style="left:1800.00px;top:574px;line-height:17px;font-size:15.4px;color:#fb787b;letter-spacing:-0.231px">R +2.7 pts</span>
<span class="t" id="t35" style="left:1044.00px;top:604px;line-height:20px;font-size:17.6px;color:#f6f3ef;letter-spacing:-0.497px">Race &amp; Ethnicity</span>
<span class="t" id="t36" style="left:1325.30px;top:604px;line-height:20px;font-size:17.6px;color:#f6f3ef;letter-spacing:-0.370px">Top Ancestries</span>
<span class="t" id="t37" style="left:1606.70px;top:604px;line-height:20px;font-size:17.6px;color:#f6f3ef;letter-spacing:-0.576px">Religious Composition</span>
<span class="t" id="t38" style="left:1606.70px;top:640px;line-height:16px;font-size:14.7px;color:#a69a94;letter-spacing:0.063px">No data.</span>
<span class="t" id="t39" style="left:1044.00px;top:646px;line-height:16px;font-size:14.5px;color:#f6f3ef;letter-spacing:0.061px">White, non-</span>
<span class="t" id="t40" style="left:1044.00px;top:664px;line-height:16px;font-size:14.5px;color:#f6f3ef;letter-spacing:-0.339px">Hispanic</span>
<span class="t" id="t41" style="left:1165.00px;top:655px;line-height:16px;font-size:14.7px;color:#a69a94;letter-spacing:-0.533px">69.4 %</span>
<span class="t" id="t42" style="left:1044.00px;top:697px;line-height:16px;font-size:14.5px;color:#f6f3ef;letter-spacing:-0.352px">Hispanic or</span>
<span class="t" id="t43" style="left:1044.00px;top:716px;line-height:16px;font-size:14.5px;color:#f6f3ef;letter-spacing:-0.067px">Latino</span>
<span class="t" id="t44" style="left:1165.00px;top:706px;line-height:16px;font-size:14.7px;color:#a69a94;letter-spacing:-0.588px;transform:scaleX(0.9304)">7.7 %</span>
<span class="t" id="t45" style="left:1044.00px;top:748px;line-height:16px;font-size:14.5px;color:#f6f3ef;letter-spacing:-0.580px;transform:scaleX(0.9891)">Black</span>
<span class="t" id="t46" style="left:1165.00px;top:748px;line-height:16px;font-size:14.7px;color:#a69a94;letter-spacing:-0.588px;transform:scaleX(0.8472)">13.1 %</span>
<span class="t" id="t47" style="left:1044.00px;top:780px;line-height:16px;font-size:14.5px;color:#f6f3ef;letter-spacing:-0.182px">Asian</span>
<span class="t" id="t48" style="left:1165.00px;top:780px;line-height:16px;font-size:14.7px;color:#a69a94;letter-spacing:-0.588px;transform:scaleX(0.9588)">2.8 %</span>
<span class="t" id="t49" style="left:1044.00px;top:811px;line-height:16px;font-size:14.5px;color:#f6f3ef;letter-spacing:0.276px">AIAN</span>
<span class="t" id="t50" style="left:1165.00px;top:811px;line-height:16px;font-size:14.7px;color:#a69a94;letter-spacing:-0.588px;transform:scaleX(0.9901)">0.7 %</span>
<span class="t" id="t51" style="left:1325.30px;top:646px;line-height:16px;font-size:14.5px;color:#f6f3ef;letter-spacing:-0.580px;transform:scaleX(0.9932)">English</span>
<span class="t" id="t52" style="left:1446.30px;top:646px;line-height:16px;font-size:14.7px;color:#a69a94;letter-spacing:-0.588px;transform:scaleX(0.9175)">12.9 %</span>
<span class="t" id="t53" style="left:1325.30px;top:678px;line-height:16px;font-size:14.5px;color:#f6f3ef;letter-spacing:0.351px">German</span>
<span class="t" id="t54" style="left:1446.30px;top:678px;line-height:16px;font-size:14.7px;color:#a69a94;letter-spacing:-0.588px;transform:scaleX(0.9292)">12.4 %</span>
<span class="t" id="t55" style="left:1325.30px;top:710px;line-height:16px;font-size:14.5px;color:#f6f3ef;letter-spacing:-0.341px">Irish</span>
<span class="t" id="t56" style="left:1446.30px;top:710px;line-height:16px;font-size:14.7px;color:#a69a94;letter-spacing:-0.588px;transform:scaleX(0.8517)">11.7 %</span>
<span class="t" id="t57" style="left:1325.30px;top:742px;line-height:16px;font-size:14.5px;color:#f6f3ef;letter-spacing:0.025px">American</span>
<span class="t" id="t58" style="left:1446.30px;top:742px;line-height:16px;font-size:14.7px;color:#a69a94;letter-spacing:-0.588px;transform:scaleX(0.9446)">6.7 %</span>
<span class="t" id="t59" style="left:1325.30px;top:774px;line-height:16px;font-size:14.5px;color:#f6f3ef;letter-spacing:0.276px">Italian</span>
<span class="t" id="t60" style="left:1446.30px;top:774px;line-height:16px;font-size:14.7px;color:#a69a94;letter-spacing:-0.588px;transform:scaleX(0.9873)">4.4 %</span>
<span class="t" id="t61" style="left:1044.00px;top:847px;line-height:20px;font-size:17.6px;color:#f6f3ef;letter-spacing:-0.666px">Economics &amp; Language</span>
<span class="t" id="t62" style="left:1059.00px;top:895px;line-height:15px;font-size:12.8px;color:#8c807a;letter-spacing:0.263px">Median HH income</span>
<span class="t" id="t63" style="left:1059.00px;top:916px;line-height:25px;font-size:21.9px;color:#f6f3ef;letter-spacing:-0.809px">$77,798</span>
<span class="t" id="t64" style="left:1272.00px;top:895px;line-height:15px;font-size:12.8px;color:#8c807a;letter-spacing:0.531px">Poverty rate</span>
<span class="t" id="t65" style="left:1272.00px;top:916px;line-height:25px;font-size:21.9px;color:#f6f3ef;letter-spacing:-0.876px;transform:scaleX(0.8615)">11.5 %</span>
<span class="t" id="t66" style="left:1485.00px;top:895px;line-height:15px;font-size:12.8px;color:#8c807a;letter-spacing:0.092px">English at home</span>
<span class="t" id="t67" style="left:1485.00px;top:916px;line-height:25px;font-size:21.9px;color:#f6f3ef;letter-spacing:-0.637px">90.8 %</span>
<span class="t" id="t68" style="left:1698.00px;top:895px;line-height:15px;font-size:12.8px;color:#8c807a;letter-spacing:0.481px">Other language</span>
<span class="t" id="t69" style="left:1698.00px;top:916px;line-height:25px;font-size:21.9px;color:#f6f3ef;letter-spacing:-0.876px;transform:scaleX(0.9614)">9.2 %</span>
<span class="t" id="t70" style="left:1044.00px;top:1007px;line-height:14px;font-size:12.4px;color:#8c807a;letter-spacing:-0.111px">Sources: Akashic Edge elections database · PL 94-171 (2020) · ACS 5-yr B04006</span>
<span class="t" id="t71" style="left:1044.00px;top:1027px;line-height:15px;font-size:13.5px;color:#a69a94;letter-spacing:0.026px">akashicedge.com/districts/fl-01</span>
<span class="t" id="t72" style="left:407.00px;top:646px;line-height:21px;font-size:18.4px;color:#a69a94;letter-spacing:-0.736px;transform:scaleX(0.9672)">2024 · Dem 30.8 % · Rep 67.7 %</span>

</body></html>
